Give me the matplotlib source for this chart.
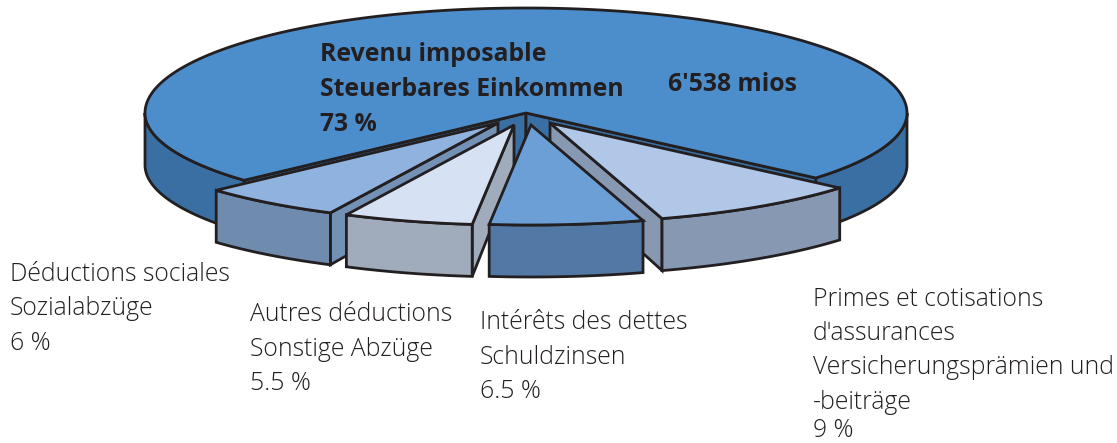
import numpy as np
import matplotlib
matplotlib.use("Agg")
import matplotlib.pyplot as plt
from matplotlib.patches import Polygon

W, H = 1117, 443

# shares in percent, clockwise from the right corner of the main slice
shares = [9, 6.5, 5.5, 6, 73]
names = ["prime", "interet", "autres", "sociales", "revenu"]
total_amount = "6'538 mios"

main_title = ["Revenu imposable", "Steuerbares Einkommen"]
label_sociales = ["Déductions sociales", "Sozialabzüge"]
label_autres = ["Autres déductions", "Sonstige Abzüge"]
label_interet = ["Intérêts des dettes", "Schuldzinsen"]
label_prime = ["Primes et cotisations", "d'assurances", "Versicherungsprämien und", "-beiträge"]

# look of the pie, in pixels
cx, cy = 526, 113
rx, ry_front, ry_back = 381, 100, 105
rim_depth, apex_depth = 52, 46
start = 40.5
explode = {"prime": (24, 10), "interet": (5, 12), "autres": (-12, 12), "sociales": (-28, 10), "revenu": (0, 0)}
top_col = {"prime": "#B1C7E8", "interet": "#6C9FD6", "autres": "#D6E2F3", "sociales": "#90B2DF", "revenu": "#4C8DCB"}
front_col = {"prime": "#8798B2", "interet": "#5279A5", "autres": "#A0ABBB", "sociales": "#6F8BAE", "revenu": "#3A6FA3"}
cut_col = {"prime": "#8798B2", "autres": "#A0ABBB", "sociales": "#7390B5", "revenu": "#3A6FA3"}
ink = "#231F20"
lw = 2.0

plt.rcParams['font.family'] = ['Open Sans', 'DejaVu Sans']


def rim(a1, a2, ox=0, oy=0, n=80):
    t = np.radians(np.linspace(a1, a2, n))
    s = np.sin(t)
    ry = np.where(s > 0, ry_front, ry_back)
    return np.column_stack((cx + ox + rx * np.cos(t), cy + oy + ry * s))


def face(ax, pts, col):
    ax.add_patch(Polygon(pts, closed=True, facecolor=col, edgecolor=ink, lw=lw, joinstyle="miter"))


fig = plt.figure(figsize=(W / 100, H / 100), dpi=100)
ax = fig.add_axes([0, 0, 1, 1])
ax.set_xlim(0, W)
ax.set_ylim(H, 0)
ax.axis("off")

# angles per slice
edges = start + np.cumsum([0] + shares) * 3.6
angles = {n: (edges[i], edges[i + 1]) for i, n in enumerate(names)}
down = np.array([0, rim_depth])

# main slice: outer wall, cut walls, top
a1, a2 = angles["revenu"]
apex = np.array([cx, cy])
apex_low = apex + [0, apex_depth]
left = rim(a1, 180)
right = rim(0, start)
face(ax, np.vstack((left, (left + down)[::-1])), front_col["revenu"])
face(ax, np.vstack((right, (right + down)[::-1])), front_col["revenu"])
c1 = rim(a1, a1, n=1)[0]
c2 = rim(a2, a2, n=1)[0]
face(ax, [apex, c1, c1 + down, apex_low], cut_col["revenu"])
face(ax, [apex, c2, c2 + down, apex_low], cut_col["revenu"])
face(ax, np.vstack(([apex], rim(a1, a2, n=300))), top_col["revenu"])

# small slices, back to front
for n in ["sociales", "autres", "prime", "interet"]:
    a1, a2 = angles[n]
    ox, oy = explode[n]
    arc = rim(a1, a2, ox, oy)
    tip = np.array([cx + ox, cy + oy])
    tip_low = tip + [0, apex_depth]
    if n == "prime":
        face(ax, [tip, arc[-1], arc[-1] + down, tip_low], cut_col[n])
    elif n in cut_col:
        face(ax, [tip, arc[0], arc[0] + down, tip_low], cut_col[n])
    face(ax, np.vstack((arc, (arc + down)[::-1])), front_col[n])
    face(ax, np.vstack(([tip], arc)), top_col[n])


def label(x, ys, lines, **kw):
    for y, s in zip(ys, lines):
        ax.text(x, y, s, color=ink, va="baseline", ha="left", **kw)


bold = dict(fontsize=17.8, fontweight="bold")
label(320, [61, 96, 131], main_title + [f"{shares[4]} %"], **bold)
label(668, [91], [total_amount], **bold)

normal = dict(fontsize=17.8, fontweight="light")
label(10, [281, 315, 350], label_sociales + [f"{shares[3]} %"], **normal)
label(250, [321, 356, 390], label_autres + [f"{shares[2]} %"], **normal)
label(480, [329, 364, 398], label_interet + [f"{shares[1]} %"], **normal)
label(813, [306, 340, 374, 409, 437], label_prime + [f"{shares[0]} %"], **normal)

fig.savefig("out.png", dpi=100)
